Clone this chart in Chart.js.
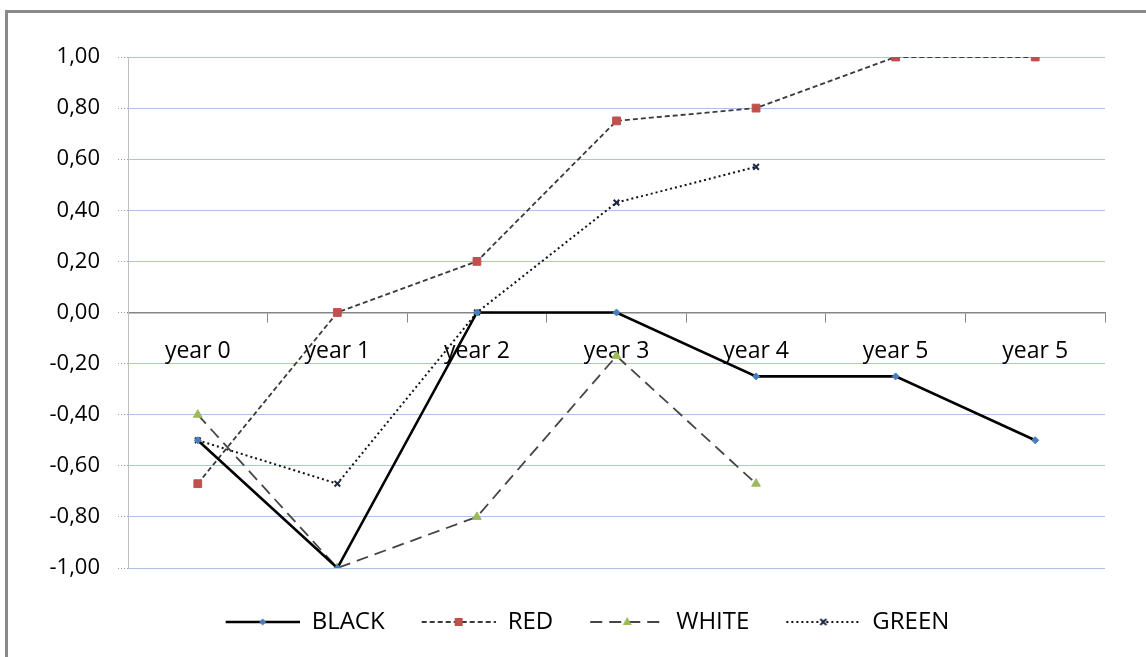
<!DOCTYPE html>
<html><head><meta charset="utf-8">
<script src="https://cdn.jsdelivr.net/npm/chart.js@4"></script>
<style>html,body{margin:0;padding:0;background:#fff}#wrap{width:1146px;height:657px;position:relative}</style>
</head><body><div id="wrap"><canvas id="c" width="1146" height="657"></canvas></div>
<script>
// ---- data ----
const categories = ['year 0', 'year 1', 'year 2', 'year 3', 'year 4', 'year 5', 'year 5'];
const seriesNames = ['BLACK', 'RED', 'WHITE', 'GREEN'];
const blackValues = [-0.5, -1.0, 0.0, 0.0, -0.25, -0.25, -0.5];
const redValues = [-0.67, 0.0, 0.2, 0.75, 0.8, 1.0, 1.0];
const whiteValues = [-0.4, -1.0, -0.8, -0.17, -0.67, null, null];
const greenValues = [-0.5, -0.67, 0.0, 0.43, 0.57, null, null];
const yMin = -1, yMax = 1, yStep = 0.2;

// ---- styles ----
const styles = [
  {line: '#000000', width: 2.6, dash: [], marker: 'rectRot', mColor: '#4A7EBB', r: 3.5},
  {line: '#3a3a3a', width: 1.8, dash: [5, 3], marker: 'rect', mColor: '#C0504D', r: 5.5},
  {line: '#454545', width: 1.8, dash: [12, 7], marker: 'triangle', mColor: '#9BBB59', r: 5},
  {line: '#111111', width: 2, dash: [2, 3], marker: 'crossRot', mColor: '#1c2a44', r: 4}
];
const allValues = [blackValues, redValues, whiteValues, greenValues];
const FONT = 'Open Sans';

function legendImg(s) {
  const W = 103, H = 16, lead = 29;
  const c = document.createElement('canvas');
  c.width = W; c.height = H;
  const g = c.getContext('2d');
  g.strokeStyle = s.line; g.lineWidth = s.width; g.setLineDash(s.dash);
  g.beginPath(); g.moveTo(lead, H / 2); g.lineTo(W, H / 2); g.stroke();
  g.setLineDash([]);
  const cx = lead + (W - lead) / 2, cy = H / 2;
  g.fillStyle = s.mColor; g.strokeStyle = s.mColor;
  if (s.marker === 'rect') { g.fillRect(cx - 4, cy - 4, 8, 8); }
  else if (s.marker === 'rectRot') { g.beginPath(); g.moveTo(cx, cy - 3.5); g.lineTo(cx + 3.5, cy); g.lineTo(cx, cy + 3.5); g.lineTo(cx - 3.5, cy); g.closePath(); g.fill(); }
  else if (s.marker === 'triangle') { g.beginPath(); g.moveTo(cx, cy - 5); g.lineTo(cx + 4.5, cy + 3); g.lineTo(cx - 4.5, cy + 3); g.closePath(); g.fill(); }
  else { g.lineWidth = 2; g.beginPath(); g.moveTo(cx - 3, cy - 3); g.lineTo(cx + 3, cy + 3); g.moveTo(cx + 3, cy - 3); g.lineTo(cx - 3, cy + 3); g.stroke(); }
  return c;
}
const legendImgs = styles.map(legendImg);

const datasets = seriesNames.map((name, i) => ({
  label: name,
  data: allValues[i],
  borderColor: styles[i].line,
  borderWidth: styles[i].width,
  borderDash: styles[i].dash,
  pointStyle: styles[i].marker,
  pointRadius: styles[i].r,
  pointBackgroundColor: styles[i].mColor,
  pointBorderColor: styles[i].mColor,
  pointBorderWidth: styles[i].marker === 'crossRot' ? 2 : 1,
  fill: false,
  tension: 0,
  spanGaps: false
}));

const framePlugin = {
  id: 'frame',
  beforeDraw(chart) {
    const g = chart.ctx;
    g.save();
    g.fillStyle = '#fff'; g.fillRect(0, 0, chart.width, chart.height);
    g.strokeStyle = '#8a8a8a'; g.lineWidth = 3;
    g.strokeRect(6.5, 11.5, 1400, 1000);
    g.restore();
  }
};

new Chart(document.getElementById('c'), {
  type: 'line',
  data: {labels: categories, datasets},
  plugins: [framePlugin],
  options: {
    responsive: false,
    animation: false,
    devicePixelRatio: 1,
    layout: {padding: {top: 57, left: 0, right: 0, bottom: 13}},
    plugins: {
      tooltip: {enabled: false},
      title: {display: true, text: '', position: 'bottom', weight: 500, padding: 0, font: {size: 34, lineHeight: 1}},
      legend: {
        position: 'bottom',
        labels: {
          usePointStyle: true,
          pointStyleWidth: 103,
          padding: 8,
          color: '#000',
          font: {family: FONT, size: 24},
          generateLabels(chart) {
            const items = Chart.defaults.plugins.legend.labels.generateLabels(chart);
            items.forEach((it, i) => { it.pointStyle = legendImgs[i]; it.lineWidth = 0; });
            return items;
          }
        }
      }
    },
    scales: {
      x: {
        type: 'category',
        offset: true,
        position: {y: 0},
        afterFit(s) { s.height = 0; },
        grid: {drawOnChartArea: false, drawTicks: true, tickLength: 9, offset: true, color: '#868686', lineWidth: 1},
        border: {display: true, color: '#868686', width: 1.5},
        ticks: {color: '#000', font: {family: FONT, size: 23}, padding: 16, maxRotation: 0, autoSkip: false}
      },
      y: {
        min: yMin, max: yMax,
        afterFit(s) { s.width = 128; },
        ticks: {
          stepSize: yStep, padding: 18, color: '#000', font: {family: FONT, size: 22},
          callback(v) { const x = Math.abs(v) < 1e-9 ? 0 : v; return x.toFixed(2).replace('.', ','); }
        },
        grid: {
          color: (ctx) => (ctx.tick && Math.abs(ctx.tick.value) < 1e-9) ? '#868686' : '#ABC3E6',
          lineWidth: 1,
          tickColor: '#999',
          tickLength: 10,
          tickBorderDash: [1, 2]
        },
        border: {display: true, color: '#BFBFBF', width: 1}
      },
      yRightSpace: {
        type: 'linear',
        position: 'right',
        min: yMin, max: yMax,
        afterFit(s) { s.width = 41; },
        ticks: {display: false},
        grid: {display: false, drawTicks: false},
        border: {display: false}
      }
    }
  }
});
</script></body></html>
